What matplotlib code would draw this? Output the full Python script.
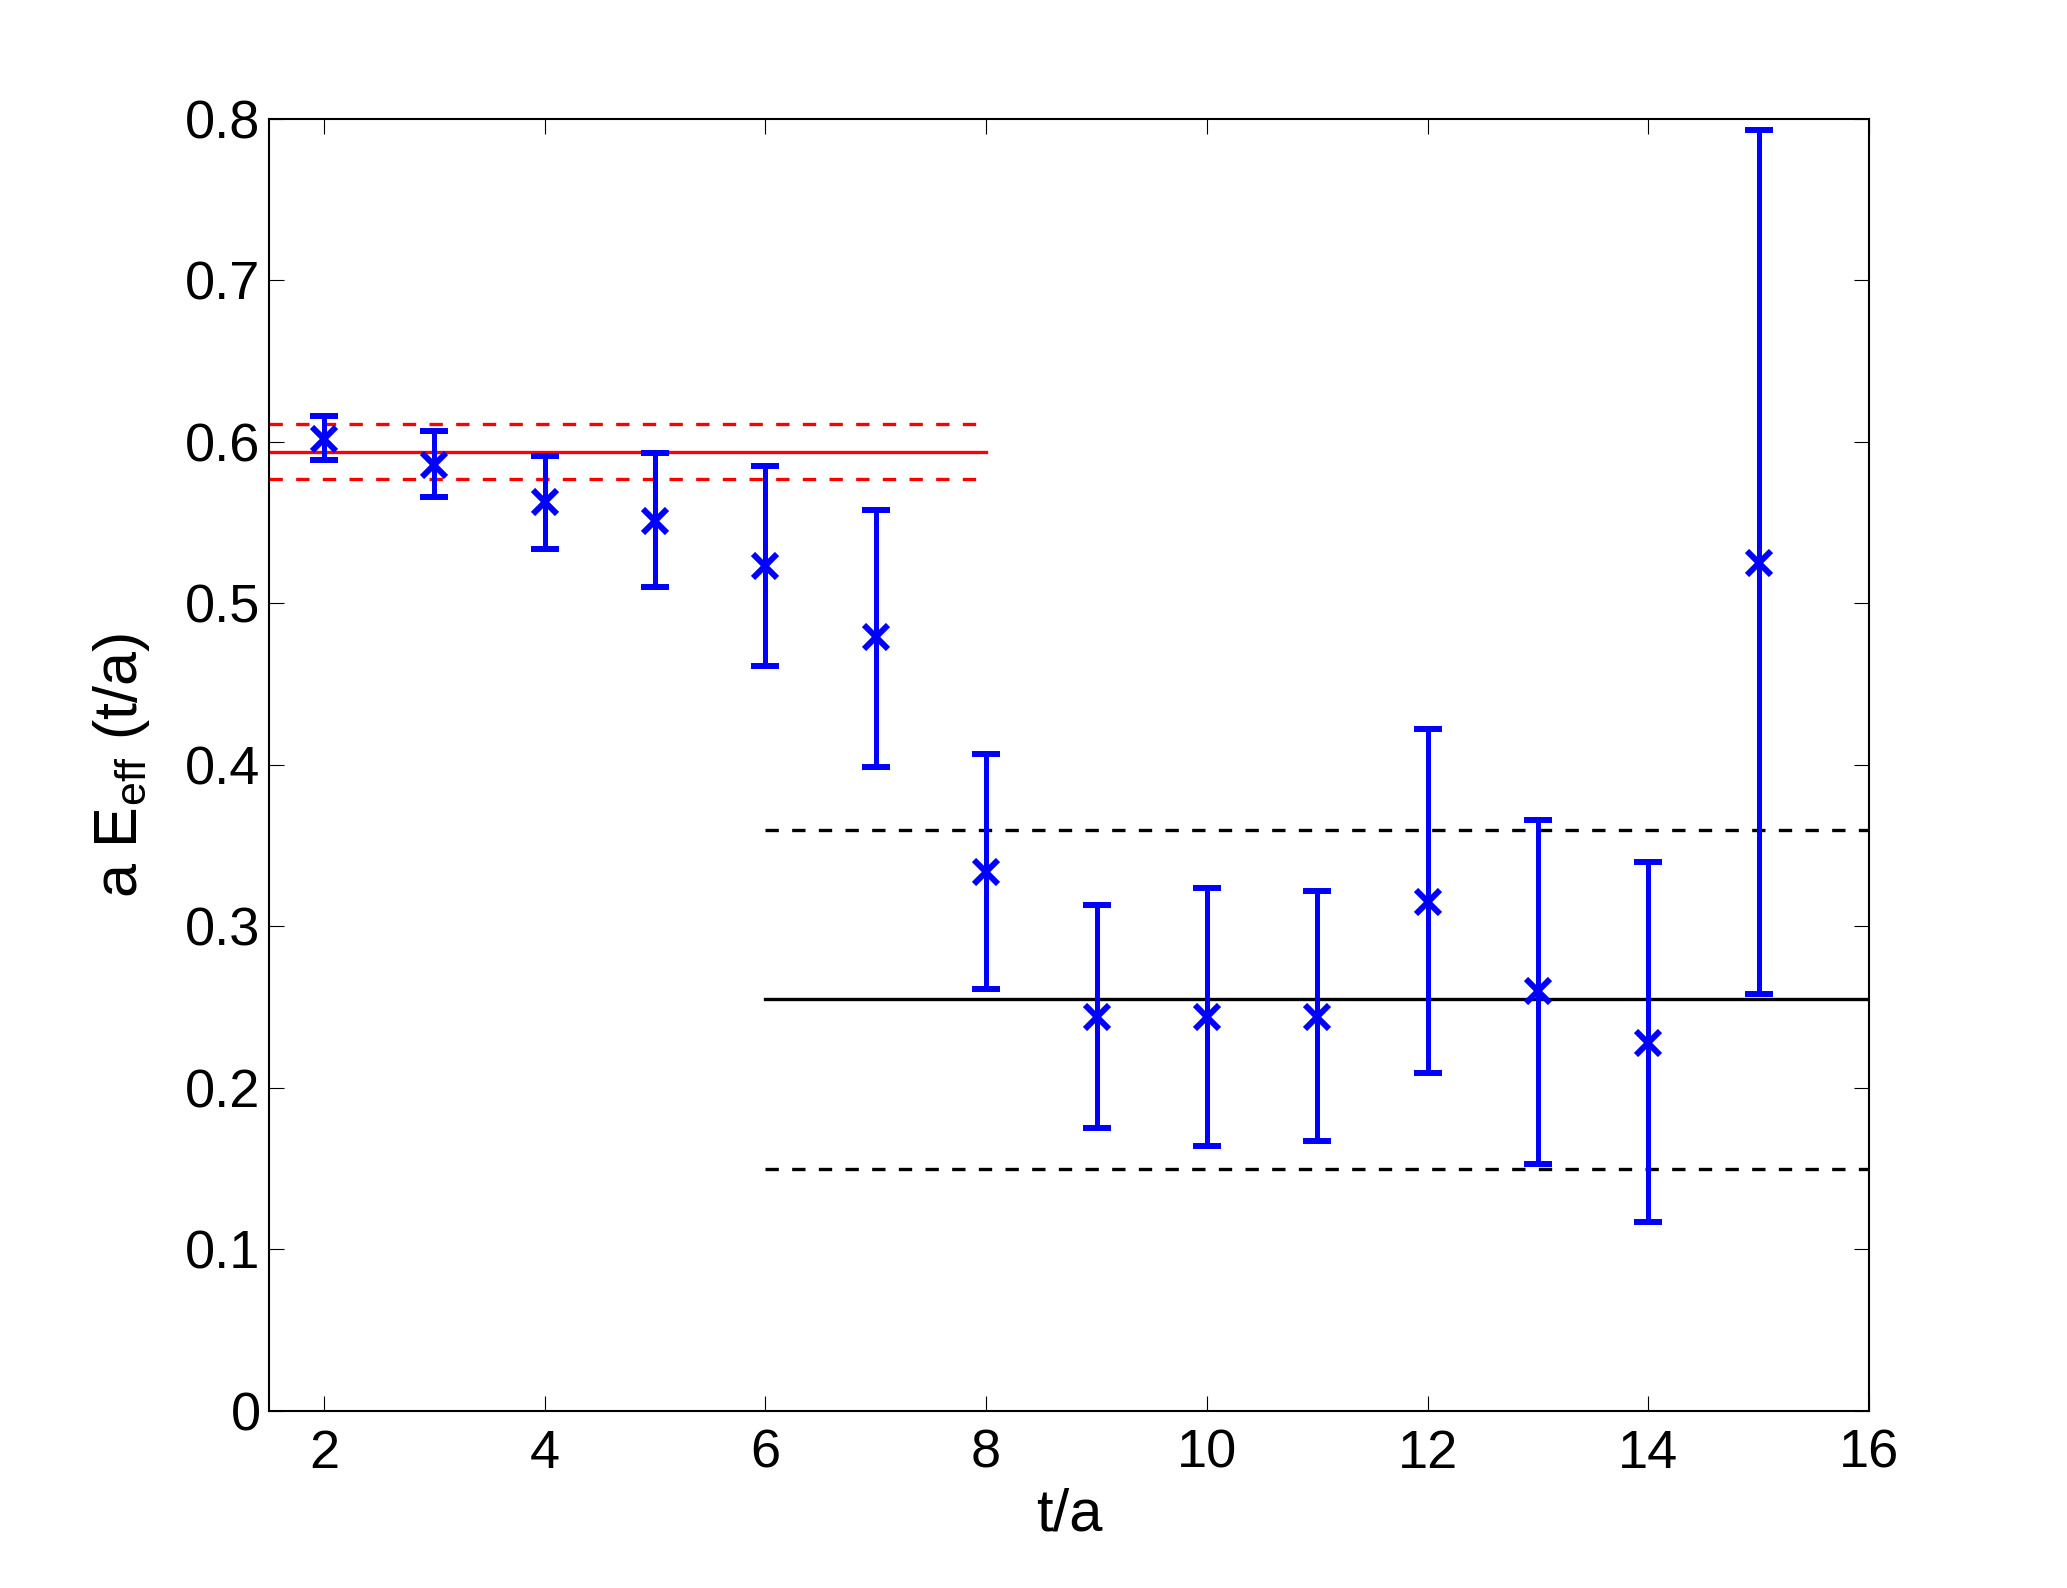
import matplotlib
matplotlib.use('Agg')
import matplotlib.pyplot as plt

# effective energy data
t = [2, 3, 4, 5, 6, 7, 8, 9, 10, 11, 12, 13, 14, 15]
e_eff = [0.602, 0.586, 0.563, 0.551, 0.523, 0.479, 0.334, 0.244, 0.244, 0.244, 0.315, 0.260, 0.228, 0.525]
err_hi = [0.616, 0.607, 0.591, 0.593, 0.585, 0.558, 0.407, 0.313, 0.324, 0.322, 0.422, 0.366, 0.340, 0.793]
err_lo = [0.589, 0.566, 0.534, 0.510, 0.461, 0.399, 0.261, 0.175, 0.164, 0.167, 0.209, 0.153, 0.117, 0.258]

# fits: (value, error, t range)
fit1_val, fit1_err, fit1_range = 0.594, 0.017, (1.5, 8)
fit2_val, fit2_err, fit2_range = 0.255, 0.105, (6, 16)

plt.rcParams['font.family'] = 'Liberation Sans'
plt.rcParams['mathtext.fontset'] = 'custom'
plt.rcParams['mathtext.rm'] = 'Liberation Sans'
plt.rcParams['mathtext.it'] = 'Liberation Sans'

fig = plt.figure(figsize=(20.67, 15.88), dpi=100)
ax = fig.add_axes([0.1301, 0.1115, 0.7741, 0.8136])

lo = [v - l for v, l in zip(e_eff, err_lo)]
hi = [h - v for v, h in zip(e_eff, err_hi)]

# fit bands
ax.plot(fit1_range, [fit1_val] * 2, color='red', lw=2.4)
ax.plot(fit1_range, [fit1_val + fit1_err] * 2, color='red', lw=2.4, dashes=(4, 4))
ax.plot(fit1_range, [fit1_val - fit1_err] * 2, color='red', lw=2.4, dashes=(4, 4))
ax.plot(fit2_range, [fit2_val] * 2, color='black', lw=2.4)
ax.plot(fit2_range, [fit2_val + fit2_err] * 2, color='black', lw=2.4, dashes=(4, 4))
ax.plot(fit2_range, [fit2_val - fit2_err] * 2, color='black', lw=2.4, dashes=(4, 4))

ax.errorbar(t, e_eff, yerr=[lo, hi], fmt='x', color='blue', ecolor='blue',
            markersize=17, markeredgewidth=4.3, elinewidth=3.6, capsize=10, capthick=4.5)

ax.set_xlim(1.5, 16)
ax.set_ylim(0, 0.8)
ax.set_xticks(range(2, 17, 2))
ax.set_yticks([0, 0.1, 0.2, 0.3, 0.4, 0.5, 0.6, 0.7, 0.8])
ax.set_yticklabels(['0', '0.1', '0.2', '0.3', '0.4', '0.5', '0.6', '0.7', '0.8'])
ax.tick_params(direction='in', length=11, width=0.8, labelsize=39, top=True, right=True)
ax.tick_params(axis='x', pad=13)
ax.tick_params(axis='y', pad=6)
for s in ax.spines.values():
    s.set_linewidth(1.5)

ax.set_xlabel('t/a', fontsize=43, labelpad=6)
ax.set_ylabel(r'a E$_{\mathregular{eff}}$ (t/a)', fontsize=44, labelpad=24)

fig.savefig('out.png', dpi=100)
